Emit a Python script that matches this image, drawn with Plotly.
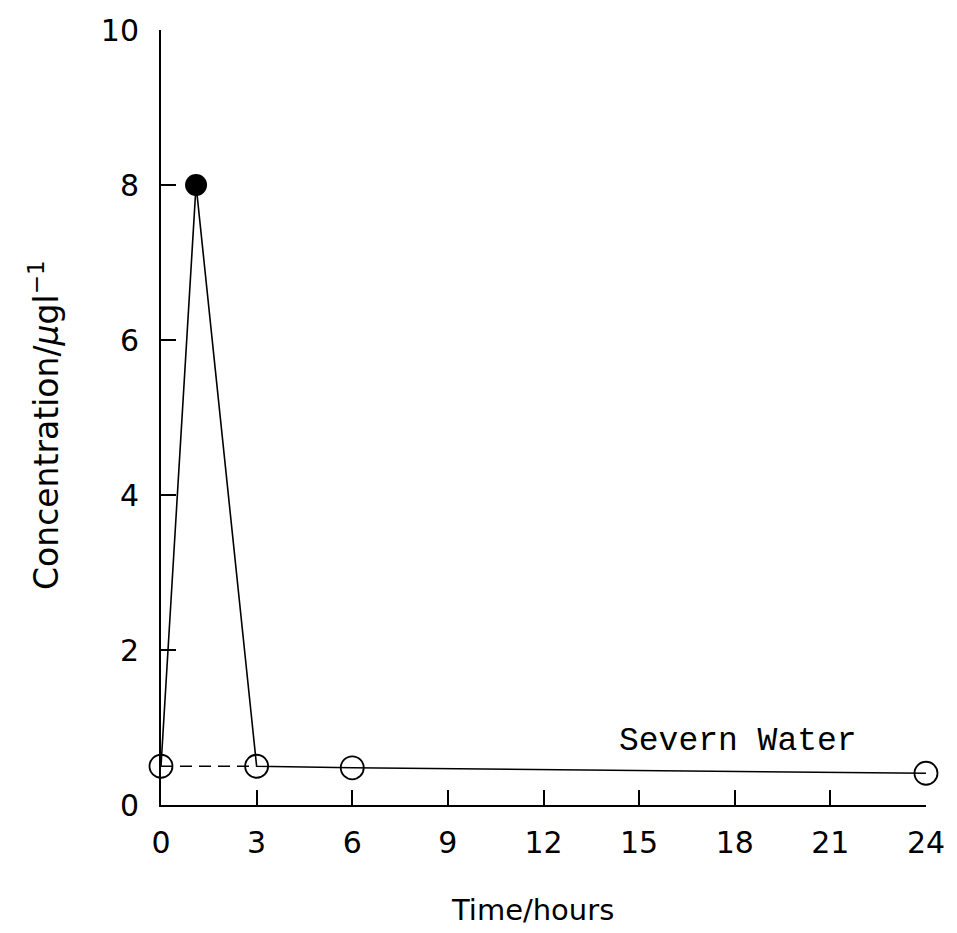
import plotly.graph_objects as go

# Sampling times (hours) and measured concentration (µg/l)
time_h = [0, 1.1, 3, 6, 24]
conc = [0.5, 8.0, 0.5, 0.48, 0.41]

# Background level carried across the first three hours
base_time = [0, 3]
base_conc = [0.5, 0.5]

# Open-circle samples and the single filled peak sample
open_time = [0, 3, 6, 24]
open_conc = [0.5, 0.5, 0.48, 0.41]
peak_time = [1.1]
peak_conc = [8.0]

x_ticks = [0, 3, 6, 9, 12, 15, 18, 21, 24]
y_ticks = [0, 2, 4, 6, 8, 10]

fig = go.Figure()

fig.add_trace(go.Scatter(
    x=base_time, y=base_conc, mode="lines",
    line=dict(color="black", width=1.6, dash="12px,7px"),
    cliponaxis=False, showlegend=False,
))
fig.add_trace(go.Scatter(
    x=time_h, y=conc, mode="lines",
    line=dict(color="black", width=1.6),
    cliponaxis=False, showlegend=False,
))
fig.add_trace(go.Scatter(
    x=open_time, y=open_conc, mode="markers",
    marker=dict(symbol="circle-open", size=23, color="black",
                line=dict(width=1.8, color="black")),
    cliponaxis=False, showlegend=False,
))
fig.add_trace(go.Scatter(
    x=peak_time, y=peak_conc, mode="markers",
    marker=dict(symbol="circle", size=22, color="black"),
    cliponaxis=False, showlegend=False,
))

tick_font = dict(family="DejaVu Sans", size=30, color="black")

fig.update_xaxes(
    range=[0, 24], tickvals=x_ticks, ticktext=[str(v) for v in x_ticks],
    showline=True, linecolor="black", linewidth=2,
    ticks="inside", ticklen=15, tickwidth=1.6, tickcolor="black",
    showgrid=False, zeroline=False, tickfont=tick_font,
    ticklabelstandoff=10,
)
fig.update_yaxes(
    range=[0, 10], tickvals=y_ticks, ticktext=[str(v) for v in y_ticks],
    showline=True, linecolor="black", linewidth=2,
    ticks="inside", ticklen=15, tickwidth=1.6, tickcolor="black",
    showgrid=False, zeroline=False, tickfont=tick_font,
    ticklabelstandoff=14,
)

fig.add_annotation(
    text="Time/hours", xref="paper", yref="paper",
    x=0.485, y=-0.135, xanchor="center", yanchor="middle",
    showarrow=False, font=dict(family="DejaVu Sans", size=29, color="black"),
)
fig.add_annotation(
    text="Concentration/<i>µ</i>gl<sup>−1</sup>", xref="paper", yref="paper",
    x=-0.152, y=0.49, xanchor="center", yanchor="middle", textangle=-90,
    showarrow=False, font=dict(family="DejaVu Sans", size=33, color="black"),
)
fig.add_annotation(
    text="Severn Water", xref="x", yref="y",
    x=18.1, y=0.82, xanchor="center", yanchor="middle",
    showarrow=False, font=dict(family="Liberation Mono", size=33, color="black"),
)

fig.update_layout(
    width=957, height=933,
    margin=dict(l=161, r=22, t=25, b=128),
    paper_bgcolor="white", plot_bgcolor="white",
)

fig.write_html("out.html")
